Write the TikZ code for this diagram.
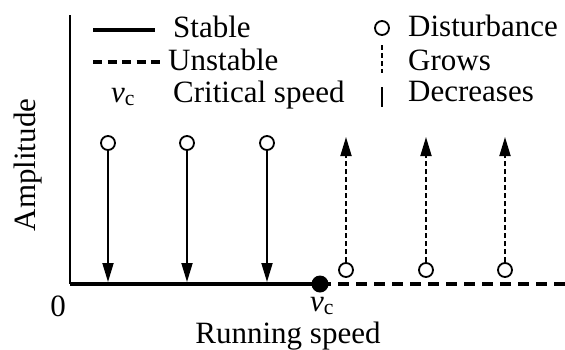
\documentclass[tikz,border=0pt]{standalone}
\usepackage{fontspec}
\setmainfont{Liberation Serif}
\usetikzlibrary{positioning}
\usetikzlibrary{arrows.meta}

\begin{document}
\begin{tikzpicture}[x=1pt,y=-1pt,
  dist/.style={circle, draw, line width=1.8pt, fill=white, inner sep=0pt, minimum size=14pt},
  txt/.style={font=\fontsize{31}{36}\selectfont, inner sep=0pt},
  tip/.style={-{Triangle[length=19pt,width=11pt]}, line width=1.8pt},
  growline/.style={dash pattern=on 5pt off 3pt}]
 	\useasboundingbox (0,0) rectangle (565,349);

 	% axes
 	\coordinate (o) at (70,284);
 	\coordinate (top) at (70,15);
 	\coordinate (c) at (320,284);
 	\coordinate (xend) at (565,284);
 	\draw[line width=2.4pt] (top) -- (o);
 	\draw[line width=4pt] (o) -- (c);
 	\draw[line width=4pt, dash pattern=on 11pt off 7pt] (c) -- (xend);
 	\node[circle, fill, inner sep=0pt, minimum size=17pt] (vc) at (c) {};

 	% stable disturbances decrease
 	\foreach \x [count=\i] in {108,187,267}
 	{\node[dist] (s\i) at (\x,143) {};
 	 \coordinate (sb\i) at (\x,282);
 	 \draw[tip] (s\i) -- (sb\i);}

 	% unstable disturbances grow
 	\foreach \x [count=\i] in {346,426,505}
 	{\node[dist] (u\i) at (\x,270) {};
 	 \coordinate (ut\i) at (\x,137);
 	 \draw[tip, growline] (u\i) -- (ut\i);}

 	% legend
 	\coordinate (la1) at (93,30);
 	\coordinate (lb1) at (155,30);
 	\coordinate (la2) at (93,62);
 	\coordinate (lb2) at (163,62);
 	\draw[line width=3.5pt] (la1) -- (lb1);
 	\draw[line width=3.5pt, dash pattern=on 9pt off 5.5pt] (la2) -- (lb2);
 	\node[txt, anchor=base west] (stable) at (173,37) {Stable};
 	\node[txt, anchor=base west] (unstable) at (168,70) {Unstable};
 	\node[txt, anchor=base] (vcl) at (123,102) {\textit{v}\textsubscript{c}};
 	\node[txt, anchor=base west] (crit) at (173,102) {Critical speed};

 	\node[dist] (d) at (382,28) {};
 	\coordinate (ga) at (382,45);
 	\coordinate (gb) at (382,73);
 	\coordinate (da) at (382,87);
 	\coordinate (db) at (382,107);
 	\draw[line width=1.8pt, growline] (ga) -- (gb);
 	\draw[line width=1.8pt] (da) -- (db);
 	\node[txt, anchor=base west] (disturb) at (408,36) {Disturbance};
 	\node[txt, anchor=base west] (grows) at (408,70) {Grows};
 	\node[txt, anchor=base west] (decr) at (408,101) {Decreases};

 	% axis labels
 	\node[txt, anchor=base] (zero) at (58,316) {0};
 	\node[txt, anchor=base] (vcx) at (322,311) {\textit{v}\textsubscript{c}};
 	\node[txt, anchor=base] (xlab) at (288,343) {Running speed};
 	\node[txt, rotate=90, anchor=base] (ylab) at (35,165) {Amplitude};
\end{tikzpicture}
\end{document}
